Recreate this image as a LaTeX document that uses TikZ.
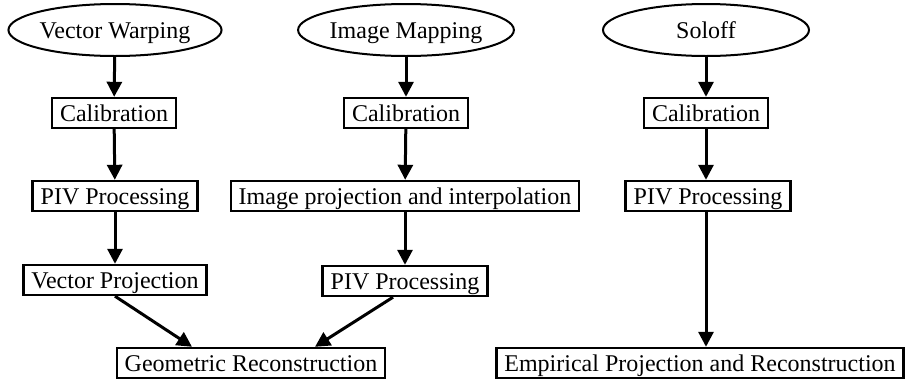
\documentclass[tikz,border=0pt]{standalone}
\usepackage{fontspec}
\setmainfont{Liberation Serif}
\usepackage{tikz}
\usetikzlibrary{calc,arrows.meta,shapes.geometric}
\tikzset{
	method/.style={draw, ellipse, line width=1pt, minimum width=103pt, minimum height=26pt, inner sep=0pt, text height=10pt, text depth=1.6pt, font=\fontsize{12}{14}\selectfont},
	stage/.style={draw, rectangle, line width=1.2pt, inner xsep=4pt, inner ysep=0pt, minimum height=15pt, text height=10pt, text depth=1.5pt, font=\fontsize{12}{14}\selectfont},
	flow/.style={line width=1.5pt, -{Triangle[length=7.5pt,width=7.5pt]}}
}

\begin{document}
\begin{tikzpicture}[x=0.5pt, y=-0.5pt]
		%%%%% START %%%%%
		\useasboundingbox (0, 0) rectangle (907, 381);
		
		\node[method] (warp) at (115, 30) {Vector Warping};
		\node[method] (map) at (406, 30) {Image Mapping};
		\node[method] (soloff) at (706, 30) {Soloff};
		
		\node[stage] (cal1) at (114, 113) {Calibration};
		\node[stage] (cal2) at (406, 113) {Calibration};
		\node[stage] (cal3) at (706, 113) {Calibration};
		
		\node[stage] (piv1) at (115, 196) {PIV Processing};
		\node[stage] (proj) at (405, 196) {Image projection and interpolation};
		\node[stage] (piv3) at (708, 196) {PIV Processing};
		
		\node[stage] (vproj) at (115, 280) {Vector Projection};
		\node[stage] (piv2) at (405, 281) {PIV Processing};
		
		\node[stage] (geo) at (251, 363) {Geometric Reconstruction};
		\node[stage] (emp) at (700, 363) {Empirical Projection and Reconstruction};
		
		\draw[flow] (warp) -- (cal1);
		\draw[flow] (cal1) -- (piv1);
		\draw[flow] (piv1) -- (vproj);
		
		\draw[flow] (map) -- (cal2);
		\draw[flow] (cal2) -- (proj);
		\draw[flow] (proj) -- (piv2);
		
		\draw[flow] (soloff) -- (cal3);
		\draw[flow] (cal3) -- (cal3 |- piv3.north);
		\draw[flow] (cal3 |- piv3.south) -- (cal3 |- emp.north);
		
		\draw[flow] (vproj.south) -- ($(geo.north)+(-59, 0)$);
		\draw[flow] ($(piv2.south)+(-12, 0)$) -- ($(geo.north)+(64, 0)$);
		
		%%%%% END %%%%%
	\end{tikzpicture}
\end{document}
